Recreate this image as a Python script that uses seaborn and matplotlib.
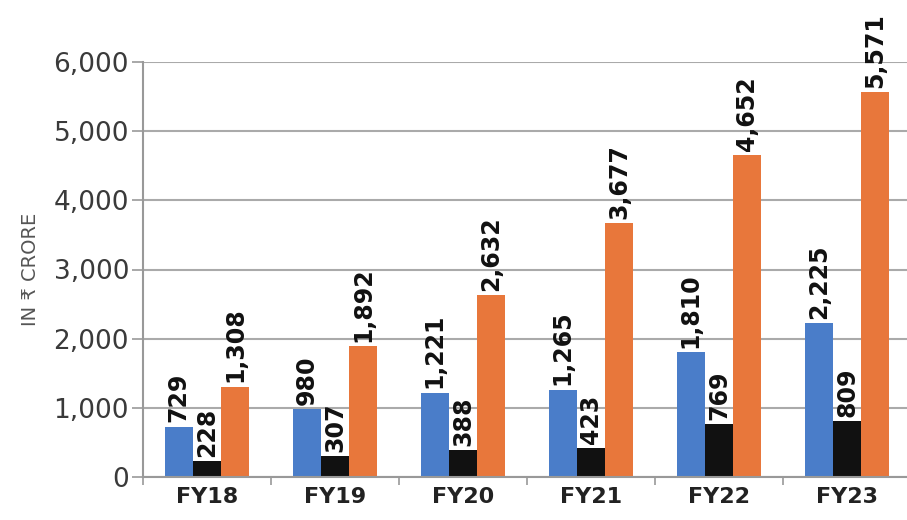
import pandas as pd
import numpy as np
import matplotlib.pyplot as plt
import seaborn as sns

years = ['FY18', 'FY19', 'FY20', 'FY21', 'FY22', 'FY23']
series_names = ['Series A', 'Series B', 'Series C']
series_a = [729, 980, 1221, 1265, 1810, 2225]
series_b = [228, 307, 388, 423, 769, 809]
series_c = [1308, 1892, 2632, 3677, 4652, 5571]
colors = ['#4a7dc9', '#111111', '#e8773b']

df = pd.DataFrame({
    'year': years * 3,
    'series': [s for s in series_names for _ in years],
    'value': series_a + series_b + series_c,
})

sns.set_style('white')
plt.rcParams['font.family'] = ['DejaVu Sans']

fig = plt.figure(figsize=(9.07, 5.2), dpi=100)
ax = fig.add_axes([143 / 907, 43 / 520, 768 / 907, 415 / 520])

sns.barplot(data=df, x='year', y='value', hue='series', palette=colors,
            width=0.66, ax=ax, legend=False, saturation=1, linewidth=0)

for cont in ax.containers:
    ax.bar_label(cont, labels=[f'{v:,.0f}' for v in cont.datavalues],
                 rotation=90, padding=3, fontsize=17, fontweight='bold',
                 color='#111111', clip_on=False)

ax.set_ylim(0, 6000)
ax.set_xlim(-0.5, 5.5)
ax.set_yticks(range(0, 6001, 1000))
ax.set_yticklabels([f'{v:,}' for v in range(0, 6001, 1000)],
                   fontsize=19, color='#3a3a3a')
ax.grid(axis='y', color='#aaaaaa', linewidth=1.5)
ax.set_axisbelow(True)

ax.set_xticks(range(len(years)))
ax.set_xticklabels(years, fontsize=16, fontweight='bold', color='#222222')
ax.set_xticks(np.arange(-0.5, 6, 1), minor=True)
ax.tick_params(axis='x', which='major', length=0, pad=7)
ax.tick_params(axis='x', which='minor', length=6, width=1.2, color='#999999',
               direction='out', bottom=True)
ax.tick_params(axis='y', length=8, width=1.2, color='#999999', left=True,
               direction='out', pad=2)

ax.set_xlabel('')
ax.set_ylabel('IN ₹ CRORE', fontsize=14, color='#555555', labelpad=10)

for side in ['top', 'right']:
    ax.spines[side].set_visible(False)
for side in ['left', 'bottom']:
    ax.spines[side].set_color('#999999')
    ax.spines[side].set_linewidth(1.5)

plt.savefig('out.png', dpi=100)
